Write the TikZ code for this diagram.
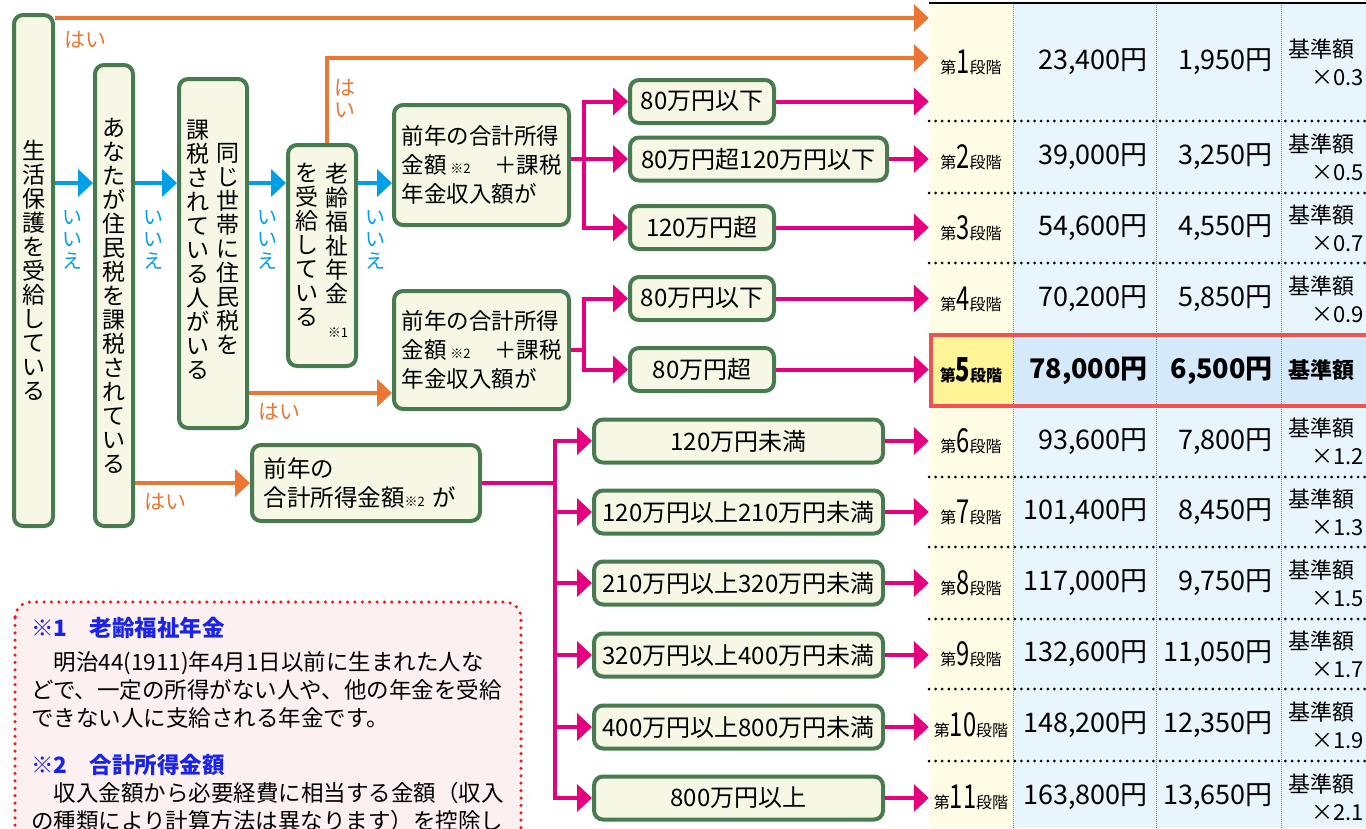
\documentclass[tikz,border=0pt]{standalone}
\usepackage{fontspec}
\setmainfont{Noto Sans CJK JP}
\usetikzlibrary{arrows.meta}

\definecolor{boxgreen}{RGB}{72,124,80}
\definecolor{boxfill}{RGB}{246,247,228}
\definecolor{yesorange}{RGB}{235,117,50}
\definecolor{noblue}{RGB}{0,160,233}
\definecolor{bandpink}{RGB}{228,0,127}
\definecolor{stagecol}{RGB}{255,252,230}
\definecolor{feecol}{RGB}{233,245,252}
\definecolor{basecol}{RGB}{255,244,150}
\definecolor{basefee}{RGB}{212,233,250}
\definecolor{basered}{RGB}{240,82,82}
\definecolor{notefill}{RGB}{253,240,240}
\definecolor{notered}{RGB}{232,30,30}
\definecolor{noteblue}{RGB}{25,35,235}

\newcommand{\kome}[1]{{\fontsize{13}{13}\selectfont ※#1}}
\newcommand{\stagelabel}[1]{{\fontsize{16}{16}\selectfont 第}{\fontsize{33}{33}\selectfont\scalebox{0.72}[1]{#1}}{\fontsize{16}{16}\selectfont 段階}}

\begin{document}
\begin{tikzpicture}[x=1pt, y=-1pt]
  \tikzset{
    qbox/.style={draw=boxgreen, fill=boxfill, line width=4pt, rounded corners=9pt, inner sep=0pt},
    tate/.style={font=\fontsize{23}{24}\selectfont, align=center, inner sep=0pt},
    ftext/.style={font=\fontsize{22.5}{29}\selectfont, align=left, inner sep=0pt},
    rangebox/.style={qbox, font=\fontsize{24}{24}\selectfont, minimum height=43pt},
    arrowtip/.style={-{Triangle[length=15pt,width=27pt]}},
    yesline/.style={draw=yesorange, line width=4pt, arrowtip},
    noline/.style={draw=noblue, line width=4pt, arrowtip},
    bandline/.style={draw=bandpink, line width=4pt},
    yeslabel/.style={text=yesorange, font=\fontsize{21}{22}\selectfont, align=center, inner sep=0pt},
    nolabel/.style={text=noblue, font=\fontsize{20}{22}\selectfont, align=center, inner sep=0pt},
    rowdots/.style={line width=3pt, line cap=round, dash pattern=on 0pt off 6.6pt},
    coldots/.style={gray, line width=0.8pt, dash pattern=on 1pt off 1pt},
    stagecell/.style={minimum width=84pt, inner sep=0pt},
    feetext/.style={font=\fontsize{27}{27}\selectfont, inner sep=0pt, anchor=east},
    ratetext/.style={font=\fontsize{22}{28}\selectfont, align=left, text width=76pt, inner sep=0pt},
    notehead/.style={text=noteblue, font=\fontsize{22.5}{28}\selectfont\bfseries, inner sep=0pt, anchor=west},
    notebody/.style={font=\fontsize{22.5}{28}\selectfont, align=left, inner sep=0pt, anchor=north west},
  }
  \useasboundingbox (0,0) rectangle (1366,828);
  \clip (0,0) rectangle (1366,828);

  % fee table
  \fill[stagecol] (929,3) rectangle (1013,828);
  \fill[feecol] (1013,3) rectangle (1366,828);
  \fill[basecol] (929,335) rectangle (1013,406);
  \fill[basefee] (1013,335) rectangle (1366,406);
  \foreach \x in {1013,1156,1281}
    \draw[coldots] (\x,3) -- (\x,828);
  \foreach \y in {121,193,263,477,547,619,689,761}
    \draw[rowdots] (929,\y) -- (1366,\y);
  \draw[line width=2.5pt] (929,3) -- (1366,3);
  \foreach \n/\ya/\yb/\fee/\monthly/\rate in {
      1/3/121/23{,}400/1{,}950/0.3, 2/121/193/39{,}000/3{,}250/0.5,
      3/193/263/54{,}600/4{,}550/0.7, 4/263/335/70{,}200/5{,}850/0.9,
      6/406/477/93{,}600/7{,}800/1.2, 7/477/547/101{,}400/8{,}450/1.3,
      8/547/619/117{,}000/9{,}750/1.5, 9/619/689/132{,}600/11{,}050/1.7,
      10/689/761/148{,}200/12{,}350/1.9, 11/761/833/163{,}800/13{,}650/2.1}{
    \pgfmathsetmacro\yc{(\ya+\yb)/2}
    \node[stagecell] (stage\n) at (971,\yc) {\stagelabel{\n}};
    \node[feetext] (fee\n) at (1148,\yc) {\fee 円};
    \node[feetext] (month\n) at (1273,\yc) {\monthly 円};
    \node[ratetext] (rate\n) at (1326,\yc) {基準額\\\hspace*{\fill}×\rate};
  }
  % stage 5 = base amount
  \node[stagecell, font=\bfseries] (stage5) at (971,370.5) {\stagelabel{5}};
  \node[feetext, font=\fontsize{27}{27}\selectfont\bfseries] (fee5) at (1148,370.5) {78{,}000円};
  \node[feetext, font=\fontsize{27}{27}\selectfont\bfseries] (month5) at (1273,370.5) {6{,}500円};
  \node[ratetext, font=\fontsize{22}{28}\selectfont\bfseries] (rate5) at (1326,370.5) {基準額};
  \draw[basered, line width=3.5pt] (930.75,335) rectangle (1372,406);

  % questions
  \node[qbox, tate, minimum width=39pt, minimum height=511pt] (welfare) at (33.5,270.5)
    {生\\活\\保\\護\\を\\受\\給\\し\\て\\い\\る};
  \node[qbox, tate, minimum width=38pt, minimum height=461pt] (taxed) at (114,295.5)
    {あ\\な\\た\\が\\住\\民\\税\\を\\課\\税\\さ\\れ\\て\\い\\る};
  \node[qbox, minimum width=68pt, minimum height=349pt] (household) at (213,253.5) {};
  \node[tate, anchor=north] (household-l) at (198,120) {課\\税\\さ\\れ\\て\\い\\る\\人\\が\\い\\る};
  \node[tate, anchor=north] (household-r) at (228,143) {同\\じ\\世\\帯\\に\\住\\民\\税\\を};
  \node[qbox, minimum width=68pt, minimum height=221pt] (pension) at (322,255.5) {};
  \node[tate, anchor=north] (pension-r) at (337,163) {老\\齢\\福\\祉\\年\\金};
  \node[tate, anchor=north] (pension-l) at (307,163) {を\\受\\給\\し\\て\\い\\る};
  \node[inner sep=0pt] (pension-note) at (338,333) {\kome{1}};

  \node[qbox, ftext, text width=160pt, minimum width=175pt, minimum height=120pt] (income-a) at (481.5,165)
    {前年の合計所得\\金額\,\kome{2}\hfill＋課税\\年金収入額が};
  \node[qbox, ftext, text width=160pt, minimum width=175pt, minimum height=118pt] (income-b) at (481.5,350)
    {前年の合計所得\\金額\,\kome{2}\hfill＋課税\\年金収入額が};
  \node[qbox, ftext, font=\fontsize{23.5}{29}\selectfont, text width=205pt, minimum width=228pt, minimum height=76pt] (income-c) at (366,483)
    {前年の\\合計所得金額\kome{2} が};

  % income ranges
  \node[rangebox, minimum width=144pt] (upto80) at (702,101.5) {80万円以下};
  \node[rangebox, minimum width=257pt] (upto120) at (758.5,159) {80万円超120万円以下};
  \node[rangebox, minimum width=144pt] (over120) at (702,227.5) {120万円超};
  \node[rangebox, minimum width=144pt] (upto80b) at (702,298.5) {80万円以下};
  \node[rangebox, minimum width=144pt] (over80b) at (702,369.5) {80万円超};
  \foreach \name/\y/\txt in {below120/441/120万円未満, to210/512/120万円以上210万円未満,
      to320/583/210万円以上320万円未満, to400/655/320万円以上400万円未満,
      to800/727/400万円以上800万円未満, over800/798/800万円以上}
    \node[rangebox, minimum width=289pt] (\name) at (738.5,\y) {\txt};

  % no
  \coordinate (no-level) at (0,183);
  \foreach \a/\b in {welfare/taxed, taxed/household, household/pension, pension/income-a}
    \draw[noline] (\a.east |- no-level) -- (\b.west |- no-level);
  \foreach \x in {72,153,267,375}
    \node[nolabel] (no-\x) at (\x,240) {い\\い\\え};

  % yes
  \coordinate (yes-top) at (0,18);
  \coordinate (yes-pension) at (0,58);
  \coordinate (yes-house) at (0,393);
  \draw[yesline] (welfare.east |- yes-top) -- (stage1.west |- yes-top);
  \draw[yesline] ([xshift=5pt]pension.north) |- (stage1.west |- yes-pension);
  \draw[yesline] (household.east |- yes-house) -- (income-b.west |- yes-house);
  \draw[yesline] (taxed.east |- income-c.west) -- (income-c.west);
  \node[yeslabel] (yes-1) at (85,40) {はい};
  \node[yeslabel] (yes-2) at (345,98) {は\\い};
  \node[yeslabel] (yes-3) at (279,412) {はい};
  \node[yeslabel] (yes-4) at (165,502) {はい};

  % income branches
  \coordinate (fork-a) at (584,0);
  \coordinate (fork-c) at (555,0);
  \draw[bandline, arrowtip] (income-a.east |- upto120.west) -- (upto120.west);
  \foreach \r in {upto80,over120}
    \draw[bandline, arrowtip] (fork-a |- upto120.west) |- (\r.west);
  \draw[bandline] (income-b.east) -- (fork-a |- income-b.east);
  \foreach \r in {upto80b,over80b}
    \draw[bandline, arrowtip] (fork-a |- income-b.east) |- (\r.west);
  \draw[bandline] (income-c.east) -- (fork-c |- income-c.east);
  \foreach \r in {below120,to210,to320,to400,to800,over800}
    \draw[bandline, arrowtip] (fork-c |- income-c.east) |- (\r.west);
  \foreach \r/\s in {upto80/1, upto120/2, over120/3, upto80b/4, over80b/5, below120/6,
      to210/7, to320/8, to400/9, to800/10, over800/11}
    \draw[bandline, arrowtip] (\r.east) -- (\r.east -| stage\s.west);

  % notes
  \draw[notered, fill=notefill, line width=3.5pt, line cap=round, dash pattern=on 0pt off 7.4pt,
    rounded corners=16pt] (15,602) rectangle (521,880);
  \node[notehead] (note1-head) at (31,628) {※1　老齢福祉年金};
  \node[notebody] (note1-body) at (31,651)
    {　明治44(1911)年4月1日以前に生まれた人な\\どで、一定の所得がない人や、他の年金を受給\\できない人に支給される年金です。};
  \node[notehead] (note2-head) at (31,765) {※2　合計所得金額};
  \node[notebody] (note2-body) at (31,782)
    {　収入金額から必要経費に相当する金額（収入\\の種類により計算方法は異なります）を控除し};
\end{tikzpicture}
\end{document}
